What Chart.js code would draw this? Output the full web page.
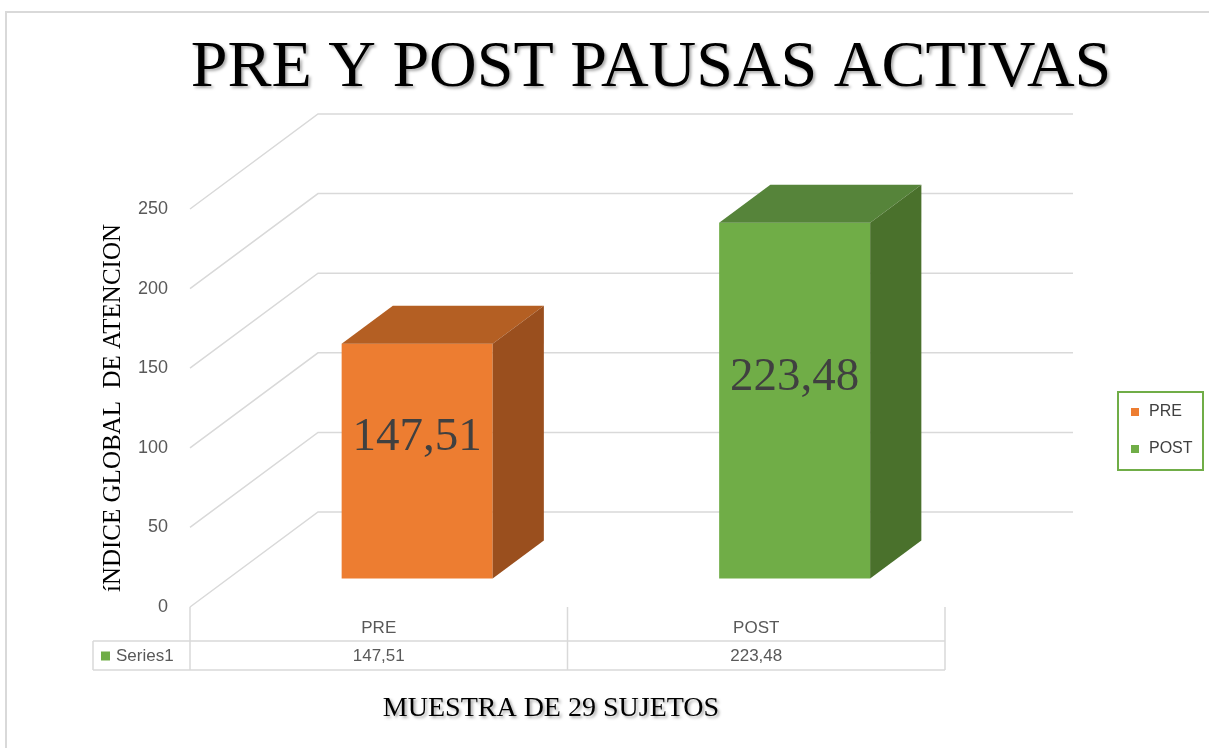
<!DOCTYPE html>
<html>
<head>
<meta charset="utf-8">
<script src="https://cdn.jsdelivr.net/npm/chart.js@4.4.1/dist/chart.umd.min.js"></script>
<style>
  html, body { margin: 0; padding: 0; background: #fff; }
  canvas { display: block; }
</style>
</head>
<body>
<canvas id="myChart" width="1209" height="748"></canvas>
<script>
const ctx = document.getElementById('myChart').getContext('2d');

// data
const categories = ['PRE', 'POST'];
const values = [147.51, 223.48];
const seriesName = 'Series1';
const yMax = 250;
const yStep = 50;

const chartTitle = 'PRE Y POST PAUSAS ACTIVAS';
const xTitle = 'MUESTRA DE 29 SUJETOS';
const yTitle = 'íNDICE GLOBAL  DE ATENCION';

/*** styles ***/
const frontColors = ['#ED7D31', '#70AD47'];
const topColors = ['#B45F23', '#56843A'];
const sideColors = ['#9A4F1E', '#4A712C'];
const gridColor = '#d9d9d9';
const serif = "'Liberation Serif', 'Times New Roman', serif";
const sans = "'Liberation Sans', Arial, sans-serif";
// oblique offset of the floor depth, bars sit between near and far
const depth = {dx: 128, dy: 95, near: 0.3, far: 0.7};
/*************/

function fmt(v) {
    return v.toFixed(2).replace('.', ',');
}

// frame round the whole chart
const frame = {
    id: 'frame',
    beforeDraw(chart) {
        const c = chart.ctx;
        c.save();
        c.strokeStyle = '#d9d9d9';
        c.lineWidth = 2;
        c.beginPath();
        c.moveTo(6, chart.height + 5);
        c.lineTo(6, 12);
        c.lineTo(chart.width + 5, 12);
        c.stroke();
        c.restore();
    }
};

// walls + 3d bars + value labels
const bars3d = {
    id: 'bars3d',
    beforeDatasetsDraw(chart) {
        const c = chart.ctx;
        const {left, right} = chart.chartArea;
        const y = chart.scales.y;

        c.save();
        c.strokeStyle = gridColor;
        c.lineWidth = 1.5;
        y.ticks.forEach(function(t) {
            const py = y.getPixelForValue(t.value);
            c.beginPath();
            c.moveTo(left, py);
            c.lineTo(left + depth.dx, py - depth.dy);
            c.lineTo(right + depth.dx, py - depth.dy);
            c.stroke();
        });

        const meta = chart.getDatasetMeta(0);
        const dd = depth.far - depth.near;
        meta.data.forEach(function(bar, i) {
            const p = bar.getProps(['x', 'y', 'base', 'width'], true);
            const x0 = p.x - p.width / 2 + depth.near * depth.dx;
            const x1 = x0 + p.width;
            const yTop = p.y - depth.near * depth.dy;
            const yBot = p.base - depth.near * depth.dy;
            const ox = dd * depth.dx;
            const oy = dd * depth.dy;

            c.fillStyle = frontColors[i];
            c.fillRect(x0, yTop, p.width, yBot - yTop);

            c.fillStyle = topColors[i];
            c.beginPath();
            c.moveTo(x0, yTop);
            c.lineTo(x1, yTop);
            c.lineTo(x1 + ox, yTop - oy);
            c.lineTo(x0 + ox, yTop - oy);
            c.closePath();
            c.fill();

            c.fillStyle = sideColors[i];
            c.beginPath();
            c.moveTo(x1, yTop);
            c.lineTo(x1 + ox, yTop - oy);
            c.lineTo(x1 + ox, yBot - oy);
            c.lineTo(x1, yBot);
            c.closePath();
            c.fill();

            // value label
            c.fillStyle = '#404040';
            c.font = '47px ' + serif;
            c.textAlign = 'center';
            c.textBaseline = 'middle';
            c.fillText(fmt(values[i]), (x0 + x1) / 2, (yTop - oy + yBot) / 2 - 4);
        });
        c.restore();
        return false;
    }
};

// data table under the plot
const dataTable = {
    id: 'dataTable',
    afterDraw(chart) {
        const c = chart.ctx;
        const x = chart.scales.x;
        const {left, right, bottom} = chart.chartArea;
        const band = (right - left) / categories.length;
        const rowTop = 641;
        const rowBot = 670;
        const cellLeft = 93;

        c.save();
        c.strokeStyle = gridColor;
        c.lineWidth = 1.5;
        c.beginPath();
        for (let i = 0; i <= categories.length; i++) {
            c.moveTo(left + band * i, bottom);
            c.lineTo(left + band * i, rowBot);
        }
        c.moveTo(cellLeft, rowTop);
        c.lineTo(right, rowTop);
        c.moveTo(cellLeft, rowBot);
        c.lineTo(right, rowBot);
        c.moveTo(cellLeft, rowTop);
        c.lineTo(cellLeft, rowBot);
        c.stroke();

        const midY = (rowTop + rowBot) / 2 + 1;
        c.fillStyle = frontColors[1];
        c.fillRect(101, midY - 5, 9, 9);
        c.font = '17px ' + sans;
        c.fillStyle = '#595959';
        c.textBaseline = 'middle';
        c.textAlign = 'left';
        c.fillText(seriesName, 116, midY);
        c.textAlign = 'center';
        values.forEach(function(v, i) {
            c.fillText(fmt(v), x.getPixelForValue(i), midY);
        });
        c.restore();
    }
};

// legend box at the right
const sideLegend = {
    id: 'sideLegend',
    afterDraw(chart) {
        const c = chart.ctx;
        c.save();
        c.strokeStyle = '#70AD47';
        c.lineWidth = 2;
        c.strokeRect(1118, 392, 85, 78);
        c.font = '16px ' + sans;
        c.fillStyle = '#404040';
        c.textAlign = 'left';
        c.textBaseline = 'middle';
        categories.forEach(function(name, i) {
            const cy = 412 + i * 37;
            c.fillStyle = frontColors[i];
            c.fillRect(1131, cy - 4, 8, 8);
            c.fillStyle = '#404040';
            c.fillText(name, 1149, cy);
        });
        c.restore();
    }
};

// chart title and x title, with a soft shadow
const titles = {
    id: 'titles',
    afterDraw(chart) {
        const c = chart.ctx;
        c.save();
        c.shadowColor = 'rgba(0,0,0,0.35)';
        c.shadowOffsetX = 2;
        c.shadowOffsetY = 2;
        c.shadowBlur = 3;
        c.fillStyle = '#000';
        c.textAlign = 'center';
        c.textBaseline = 'middle';
        c.font = '66px ' + serif;
        c.fillText(chartTitle, 651, 69);
        c.font = '28px ' + serif;
        c.fillText(xTitle, 551, 709);
        c.restore();
    }
};

const data = {
    labels: categories,
    datasets: [{
        label: seriesName,
        data: values,
        backgroundColor: frontColors,
        categoryPercentage: 0.5,
        barPercentage: 0.8
    }]
};

const config = {
    type: 'bar',
    data,
    options: {
        responsive: false,
        animation: false,
        devicePixelRatio: 1,
        layout: {
            padding: {top: 209, right: 264, bottom: 0, left: 0}
        },
        plugins: {
            legend: {display: false},
            title: {display: false},
            tooltip: {enabled: false}
        },
        scales: {
            y: {
                min: 0,
                max: yMax,
                ticks: {
                    stepSize: yStep,
                    padding: 22,
                    color: '#595959',
                    font: {family: sans, size: 18}
                },
                grid: {display: false, drawTicks: false},
                border: {display: false},
                title: {
                    display: true,
                    text: yTitle,
                    color: '#000',
                    font: {family: serif, size: 25},
                    padding: {top: 98, bottom: 0}
                },
                afterFit(scale) { scale.width = 190; }
            },
            x: {
                ticks: {
                    padding: 11,
                    color: '#595959',
                    font: {family: sans, size: 17}
                },
                grid: {display: false, drawTicks: false},
                border: {display: false},
                afterFit(scale) { scale.height = 141; }
            }
        }
    },
    plugins: [frame, bars3d, dataTable, sideLegend, titles]
};

const myChart = new Chart(ctx, config);
</script>
</body>
</html>
